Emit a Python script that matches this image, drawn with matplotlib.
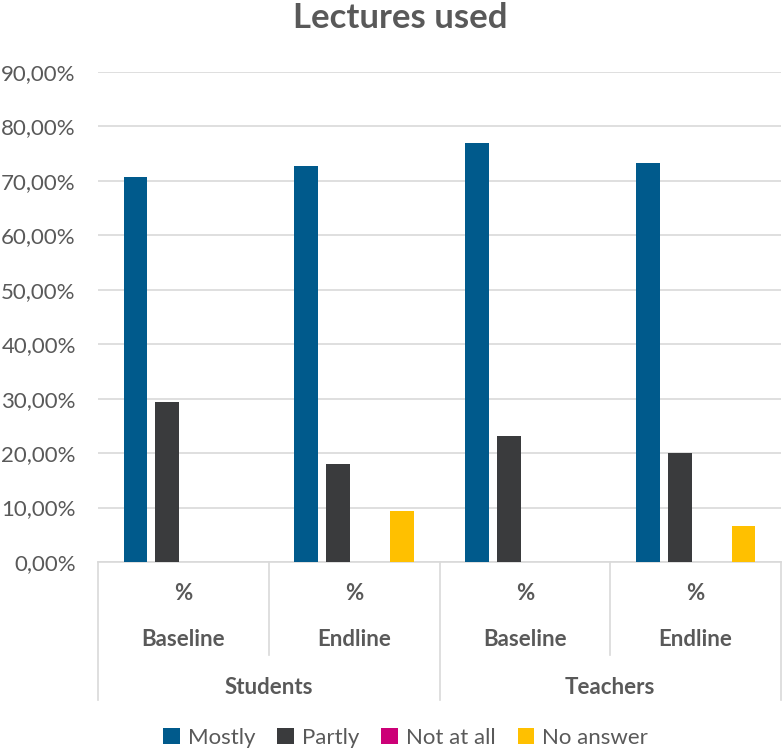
import matplotlib
matplotlib.use('Agg')
import matplotlib.pyplot as plt
import numpy as np
from matplotlib.ticker import FuncFormatter

plt.rcParams['font.family'] = ['Lato', 'DejaVu Sans']

groups   = ['Students', 'Teachers']
rounds   = ['Baseline', 'Endline', 'Baseline', 'Endline']
series   = ['Mostly', 'Partly', 'Not at all', 'No answer']
mostly   = [70.7, 72.7, 76.92, 73.33]
partly   = [29.3, 18.0, 23.08, 20.0]
not_all  = [0.0, 0.0, 0.0, 0.0]
no_ans   = [0.0, 9.3, 0.0, 6.67]
colors   = ['#005A8C', '#3A3B3D', '#CC0077', '#FFC000']

grey = '#595959'
line_c = '#D9D9D9'

W, H = 783, 753
fig = plt.figure(figsize=(W / 100, H / 100), dpi=100)
left, right, top, bottom = 98, 781, 72, 562
ax = fig.add_axes([left / W, 1 - bottom / H, (right - left) / W, (bottom - top) / H])

x = np.arange(len(rounds))
pitch = 0.187
width = 0.14
for i, (name, vals) in enumerate(zip(series, [mostly, partly, not_all, no_ans])):
    ax.bar(x + (i - 1.5) * pitch, vals, width, color=colors[i], label=name, zorder=3)

ax.set_xlim(-0.5, 3.5)
ax.set_ylim(0, 90)
ax.set_yticks(np.arange(0, 91, 10))
ax.yaxis.set_major_formatter(FuncFormatter(lambda v, p: f'{v:.2f}%'.replace('.', ',')))
ax.tick_params(axis='y', length=0, pad=16, labelsize=16, labelcolor=grey)
ax.set_xticks([])
ax.grid(axis='y', color=line_c, linewidth=1.2, zorder=0)
for s in ['top', 'right', 'left']:
    ax.spines[s].set_visible(False)
ax.spines['bottom'].set_color(line_c)
ax.spines['bottom'].set_linewidth(1.2)

# multi-level category axis below the plot
ph = bottom - top
def fy(py):
    return (bottom - py) / ph

tr = ax.get_xaxis_transform()
for b in [-0.5, 1.5, 3.5]:
    ax.plot([b, b], [0, fy(700)], color=line_c, lw=1.2, transform=tr, clip_on=False)
for b in [0.5, 2.5]:
    ax.plot([b, b], [0, fy(655)], color=line_c, lw=1.2, transform=tr, clip_on=False)

for xi, r in zip(x, rounds):
    ax.text(xi, fy(594), '%', transform=tr, ha='center', va='center',
            fontsize=16, fontweight='bold', color=grey)
    ax.text(xi, fy(640), r, transform=tr, ha='center', va='center',
            fontsize=16, fontweight='bold', color=grey)
for gi, g in enumerate(groups):
    ax.text(0.5 + 2 * gi, fy(687), g, transform=tr, ha='center', va='center',
            fontsize=16, fontweight='bold', color=grey)

fig.text(0.511, 1 - 18 / H, 'Lectures used', ha='center', va='center',
         fontsize=25, fontweight='bold', color=grey)

leg = fig.legend(loc='center', bbox_to_anchor=(0.518, 1 - 738 / H), ncol=4, frameon=False,
                 fontsize=16, handlelength=0.75, handleheight=0.75, handletextpad=0.35,
                 columnspacing=1.0)
for t in leg.get_texts():
    t.set_color(grey)

fig.savefig('out.png', dpi=100)
